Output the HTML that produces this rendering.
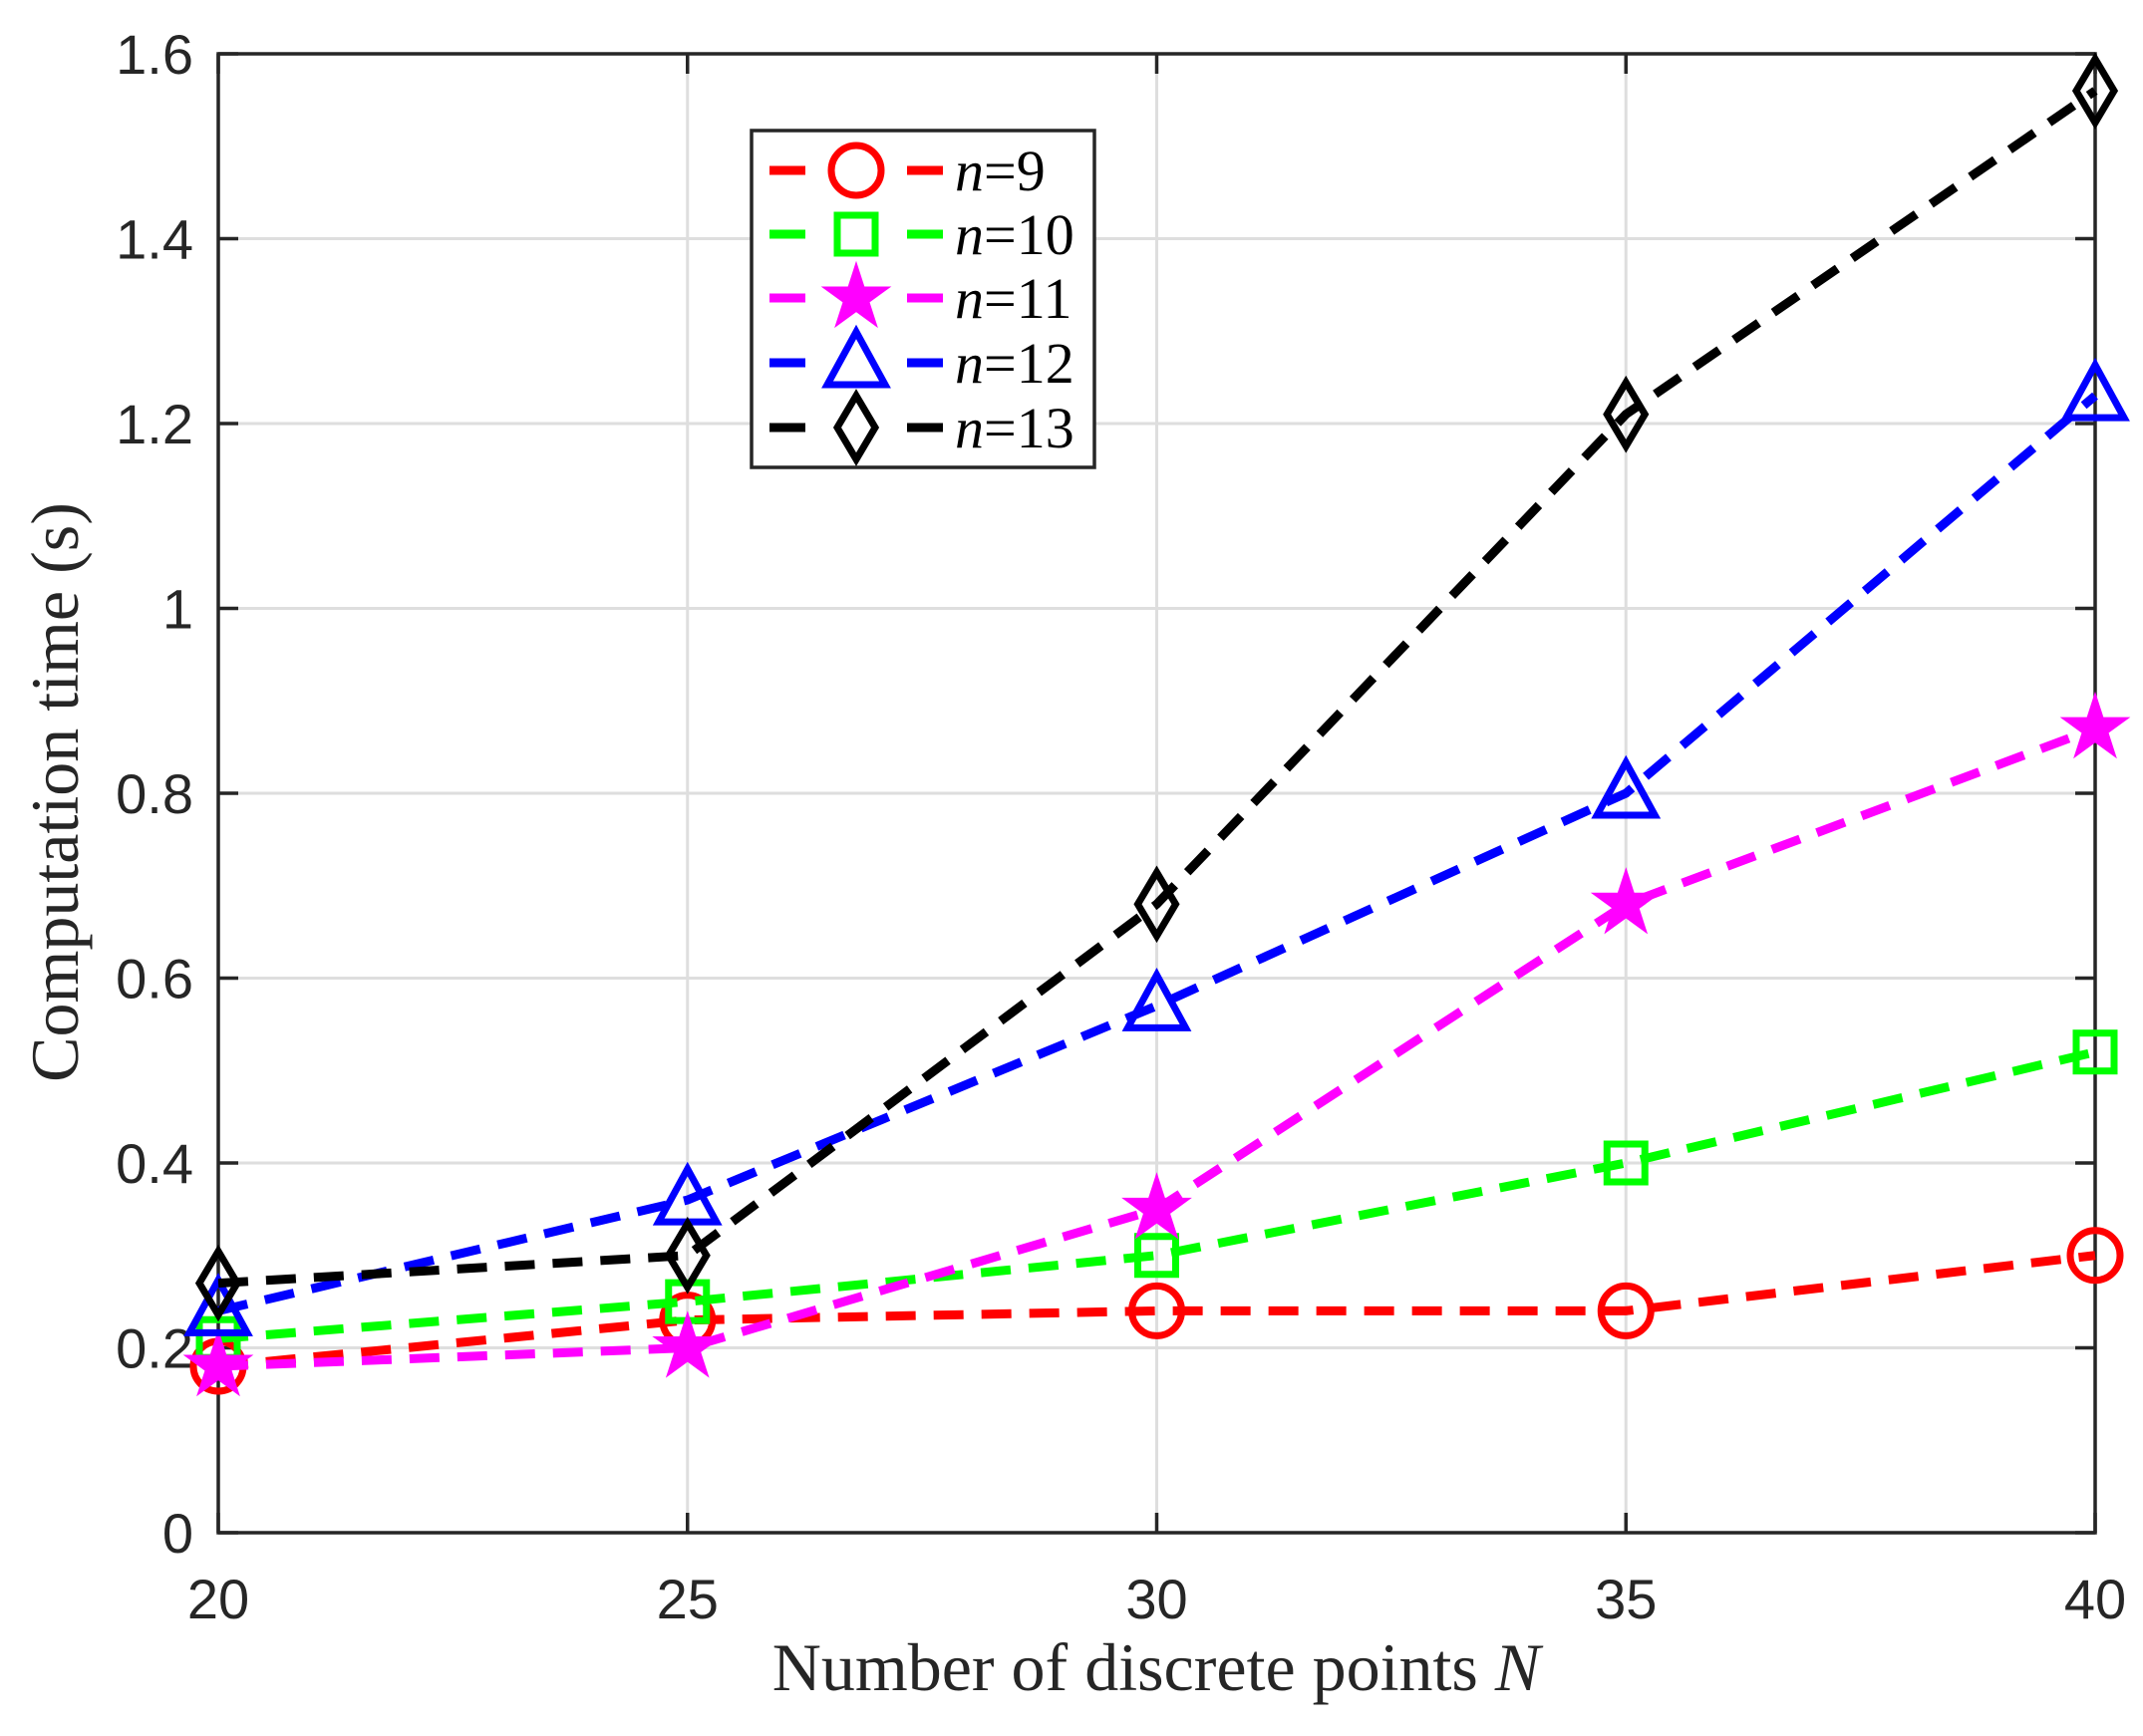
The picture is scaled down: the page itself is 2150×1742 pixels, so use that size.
<!DOCTYPE html>
<html><head><meta charset="utf-8"><style>
html,body{margin:0;padding:0;background:#fff;}
svg{display:block;}
.tick{font-family:"Liberation Sans",sans-serif;font-size:56px;fill:#262626;}
.lab{font-family:"Liberation Serif",serif;font-size:68px;fill:#262626;}
.leg{font-family:"Liberation Serif",serif;font-size:58px;fill:#000;}
</style></head><body>
<svg id="chart" width="2150" height="1742" viewBox="0 0 2150 1742" xmlns="http://www.w3.org/2000/svg"></svg>
<script>
const xValues = [20, 25, 30, 35, 40];
const seriesN9 = [0.18, 0.23, 0.24, 0.24, 0.30];
const seriesN10 = [0.21, 0.25, 0.30, 0.40, 0.52];
const seriesN11 = [0.18, 0.20, 0.35, 0.68, 0.87];
const seriesN12 = [0.24, 0.36, 0.57, 0.80, 1.23];
const seriesN13 = [0.27, 0.30, 0.68, 1.21, 1.56];
const xTicks = [20, 25, 30, 35, 40];
const yTicks = [0, 0.2, 0.4, 0.6, 0.8, 1, 1.2, 1.4, 1.6];
const yTickLabels = ["0", "0.2", "0.4", "0.6", "0.8", "1", "1.2", "1.4", "1.6"];
const seriesNames = ["n9", "n10", "n11", "n12", "n13"];
const seriesLabels = ["9", "10", "11", "12", "13"];

const L=219,R=2102,T=54,B=1538;
const sx=v=>L+(v-20)/20*(R-L);
const sy=v=>B-v/1.6*(B-T);
const NS="http://www.w3.org/2000/svg";
const svg=document.getElementById('chart');
function el(tag,attrs,parent){const e=document.createElementNS(NS,tag);for(const k in attrs)e.setAttribute(k,attrs[k]);(parent||svg).appendChild(e);return e;}

const grid=el('g',{});


xTicks.forEach(v=>{el('line',{x1:sx(v),x2:sx(v),y1:T,y2:B,stroke:'#dedede','stroke-width':3},grid);});
yTicks.forEach(v=>{el('line',{x1:L,x2:R,y1:sy(v),y2:sy(v),stroke:'#dedede','stroke-width':3},grid);});

const ax=el('g',{stroke:'#262626','stroke-width':3.5,fill:'none'});


el('rect',{x:L,y:T,width:R-L,height:B-T},ax);
xTicks.forEach(v=>{el('line',{x1:sx(v),x2:sx(v),y1:B,y2:B-20},ax);el('line',{x1:sx(v),x2:sx(v),y1:T,y2:T+20},ax);});
yTicks.forEach(v=>{el('line',{x1:L,x2:L+20,y1:sy(v),y2:sy(v)},ax);el('line',{x1:R,x2:R-20,y1:sy(v),y2:sy(v)},ax);});

xTicks.forEach(v=>{const t=el('text',{x:sx(v),y:1624,'text-anchor':'middle',class:'tick'});t.textContent=String(v);

});
yTicks.forEach((v,i)=>{const t=el('text',{x:194,y:sy(v)+20,'text-anchor':'end',class:'tick'});t.textContent=yTickLabels[i];

});

const xl=el('text',{x:1160,y:1696,'text-anchor':'middle',class:'lab'});
xl.innerHTML='Number of discrete points <tspan font-style="italic">N</tspan>';


const yl=el('text',{x:0,y:0,'text-anchor':'middle',class:'lab',transform:'translate(78,795) rotate(-90)'});
yl.textContent='Computation time (s)';



const colors=['#ff0000','#00ff00','#ff00ff','#0000ff','#000000'];
const data=[seriesN9,seriesN10,seriesN11,seriesN12,seriesN13];

function marker(type,cx,cy,color,parent){
  const sw=7;
  if(type===0) return el('circle',{cx,cy,r:25,fill:'none',stroke:color,'stroke-width':sw},parent);
  if(type===1) return el('rect',{x:cx-19,y:cy-19,width:38,height:38,fill:'none',stroke:color,'stroke-width':sw},parent);
  if(type===2){let p=[];for(let i=0;i<10;i++){const r=i%2?13:34;const a=-Math.PI/2+i*Math.PI/5;p.push((cx+r*Math.cos(a)).toFixed(1)+','+(cy+r*Math.sin(a)).toFixed(1));}
    return el('polygon',{points:p.join(' '),fill:color,stroke:color,'stroke-width':2},parent);}
  if(type===3) return el('polygon',{points:`${cx},${cy-31} ${cx+29},${cy+22} ${cx-29},${cy+22}`,fill:'none',stroke:color,'stroke-width':sw},parent);
  return el('polygon',{points:`${cx},${cy-32} ${cx+19},${cy} ${cx},${cy+32} ${cx-19},${cy}`,fill:'none',stroke:color,'stroke-width':sw},parent);
}

data.forEach((s,k)=>{
  const g=el('g',{});
  
  
  const pts=s.map((v,i)=>sx(xValues[i])+','+sy(v)).join(' ');
  el('polyline',{points:pts,fill:'none',stroke:colors[k],'stroke-width':9,'stroke-dasharray':'30 18'},g);
  s.forEach((v,i)=>{const m=marker(k,sx(xValues[i]),sy(v),colors[k],g);
    
    });
});

const lg=el('g',{});


el('rect',{x:754,y:131,width:344,height:338,fill:'#fff',stroke:'#262626','stroke-width':3.5},lg);
const rows=[171,235,299,364,429];
rows.forEach((y,k)=>{
  const e=el('g',{},lg);
  
  
  el('line',{x1:772,x2:946,y1:y,y2:y,stroke:colors[k],'stroke-width':9,'stroke-dasharray':'36 102'},e);
  marker(k,859,y,colors[k],e);
  const t=el('text',{x:958,y:y+20,class:'leg'},e);
  t.innerHTML='<tspan font-style="italic">n</tspan>='+seriesLabels[k];
});
</script>
</body></html>
